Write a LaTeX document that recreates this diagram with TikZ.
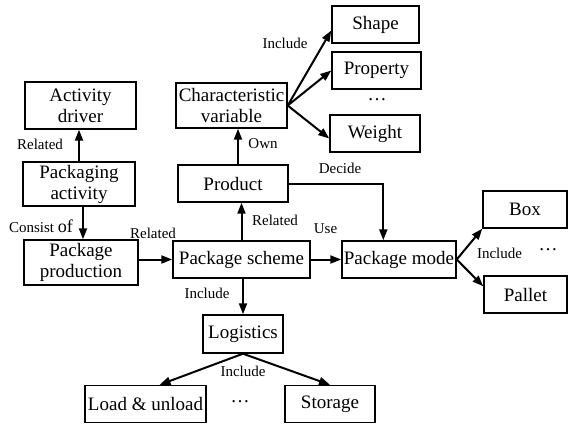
\documentclass[tikz,border=0pt]{standalone}
\usepackage{fontspec}
\setmainfont{Liberation Serif}
\usetikzlibrary{arrows.meta,calc}
\begin{document}
\begin{tikzpicture}[x=1pt,y=-1pt,
  box/.style={draw,line width=1.4pt,inner sep=0pt,align=center,
    font=\fontsize{19}{21}\selectfont},
  lbl/.style={inner sep=0pt,font=\fontsize{15}{17}\selectfont},
  dts/.style={inner sep=0pt,font=\fontsize{19}{21}\selectfont},
  arr/.style={line width=2pt,-{Triangle[length=11pt,width=8pt]}}]
\useasboundingbox (0,0) rectangle (568,424);

% boxes
\node[box,minimum width=111,minimum height=47] (driver) at (80.5,105.5) {Activity\\driver};
\node[box,minimum width=112,minimum height=44] (pact) at (79,184) {Packaging\\activity};
\node[box,minimum width=114,minimum height=45] (pprod) at (81,262.5) {Package\\production};
\node[box,minimum width=137,minimum height=37] (scheme) at (241.5,259.5) {Package scheme};
\node[box,minimum width=114,minimum height=37] (mode) at (399,259.5) {Package mode};
\node[box,minimum width=84,minimum height=37] (boxn) at (525,209.5) {Box};
\node[box,minimum width=83,minimum height=37] (pallet) at (525.5,294.5) {Pallet};
\node[box,minimum width=110,minimum height=37] (product) at (233,183.5) {Product};
\node[box,minimum width=111,minimum height=45] (charvar) at (231.5,105.5) {Characteristic\\variable};
\node[box,minimum width=87,minimum height=37] (shape) at (375.5,24.5) {Shape};
\node[box,minimum width=89,minimum height=37] (property) at (376.5,70.5) {Property};
\node[box,minimum width=90,minimum height=37] (weight) at (375,133.5) {Weight};
\node[box,minimum width=80,minimum height=38] (logistics) at (243,334) {Logistics};
\node[box,minimum width=121,minimum height=37] (load) at (145.5,404) {Load \& unload};
\node[box,minimum width=90,minimum height=37] (storage) at (330,404) {Storage};

% connectors
\draw[arr] (pact.north) -- (pact.north |- driver.south);
\draw[arr] ([xshift=4pt]pact.south) -- ([xshift=4pt]pact.south |- pprod.north);
\draw[arr] (pprod.east |- scheme.west) -- (scheme.west);
\draw[arr] (scheme.north) -- (scheme.north |- product.south);
\draw[arr] ([xshift=5pt]product.north) -- ([xshift=5pt]product.north |- charvar.south);
\draw[arr] (charvar.east) -- ($(shape.west)+(0,6)$);
\draw[arr] (charvar.east) -- (property.west);
\draw[arr] (charvar.east) -- ($(weight.west)+(0,5)$);
\draw[arr] (product.east) -| ($(mode.north west)+(42,0)$);
\draw[arr] (scheme.east) -- (mode.west);
\draw[arr] (mode.east) -- (boxn.south west);
\draw[arr] (mode.east) -- ($(pallet.north west)+(0,11)$);
\draw[arr] (scheme.south -| logistics.north) -- (logistics.north);
\draw[arr] (logistics.south) -- ($(load.north)+(14,0)$);
\draw[arr] (logistics.south) -- (storage.north);

% connector labels
\node[lbl] (l1) at (40,144) {Related};
\node[lbl] (l2) at (41,226) {Consist {\fontsize{18}{18}\selectfont of}};
\node[lbl] (l3) at (153,233) {Related};
\node[lbl] (l4) at (275,220) {Related};
\node[lbl] (l5) at (325.5,229) {Use};
\node[lbl] (l6) at (207,293) {Include};
\node[lbl] (l7) at (263,144) {Own};
\node[lbl] (l8) at (340,168) {Decide};
\node[lbl] (l9) at (285,43) {Include};
\node[lbl] (l10) at (499.5,253) {Include};
\node[lbl] (l11) at (243,371) {Include};

% ellipses
\node[dts] (d1) at (377,100) {\dots};
\node[dts] (d2) at (548,250) {\dots};
\node[dts] (d3) at (240,402) {\dots};
\end{tikzpicture}
\end{document}
